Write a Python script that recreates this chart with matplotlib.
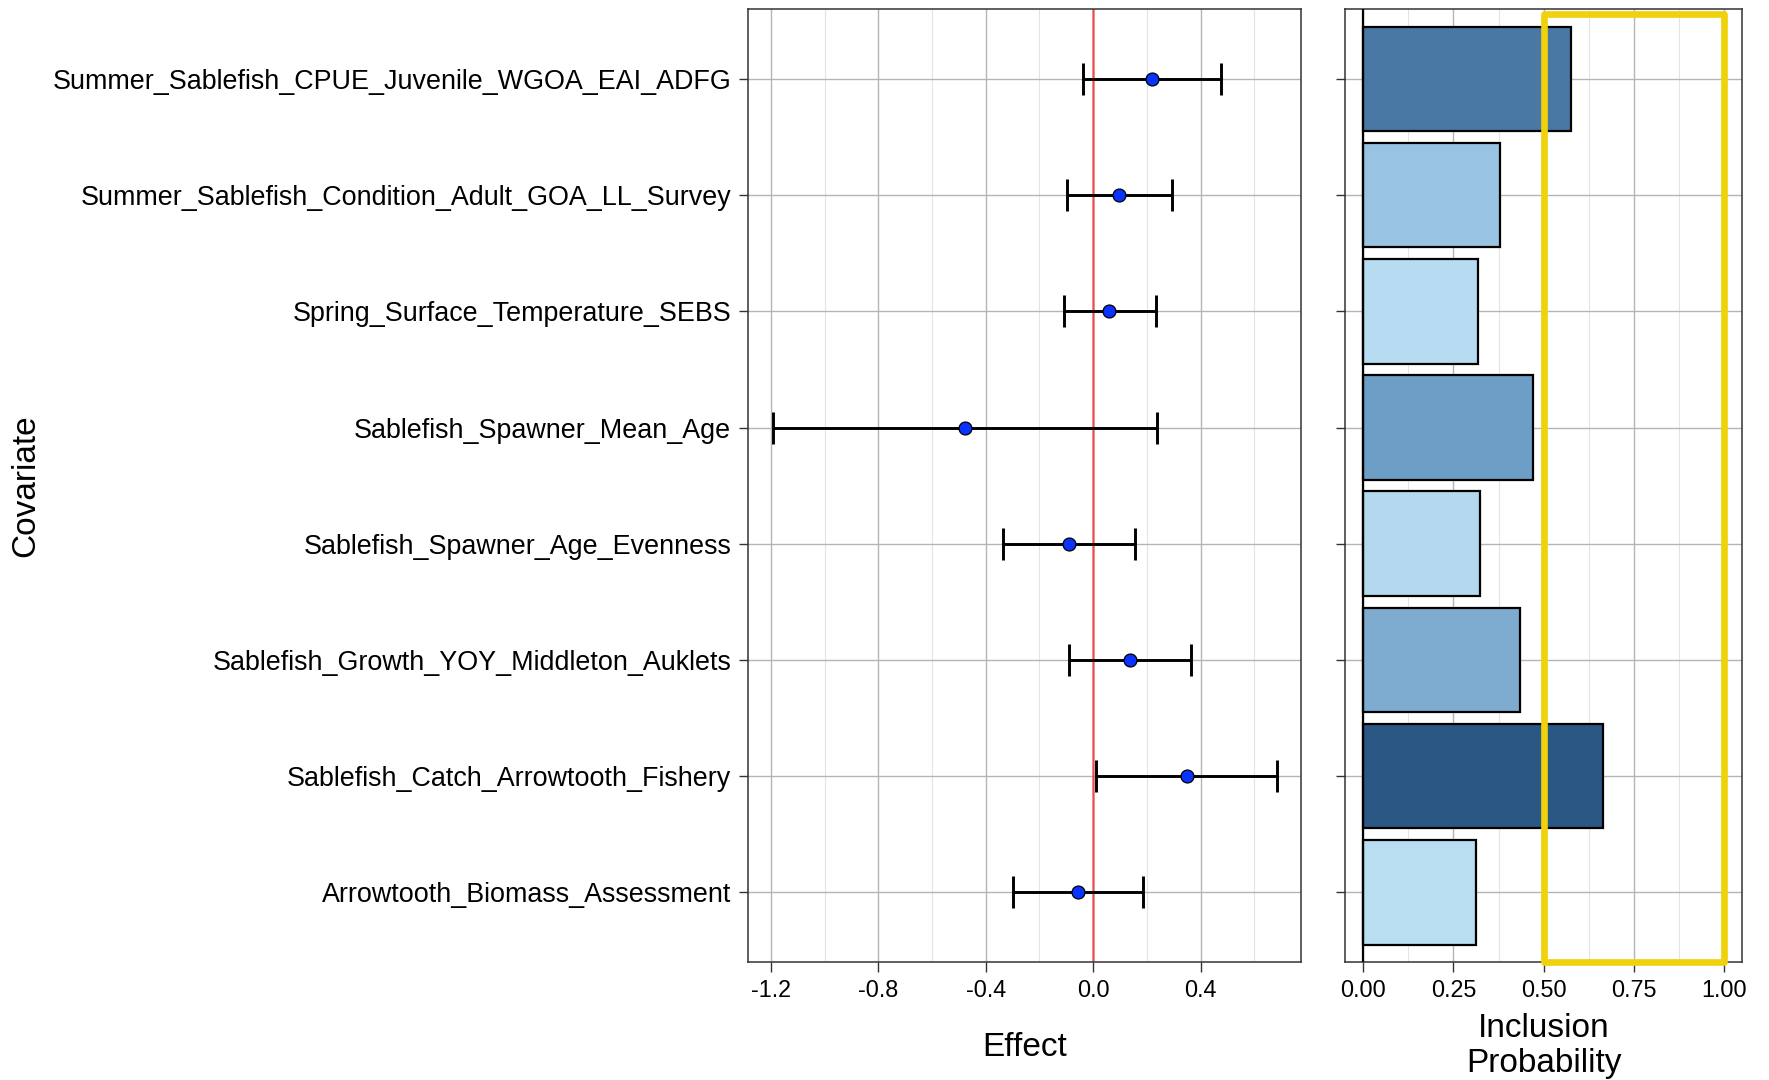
import matplotlib
matplotlib.use("Agg")
import matplotlib.pyplot as plt
from matplotlib.colors import LinearSegmentedColormap, Normalize
from matplotlib.patches import Rectangle
from matplotlib.ticker import MultipleLocator
import numpy as np

plt.rcParams['font.family'] = ['Liberation Sans', 'DejaVu Sans']

# Covariates, listed from top row to bottom row
covariates = [
    "Summer_Sablefish_CPUE_Juvenile_WGOA_EAI_ADFG",
    "Summer_Sablefish_Condition_Adult_GOA_LL_Survey",
    "Spring_Surface_Temperature_SEBS",
    "Sablefish_Spawner_Mean_Age",
    "Sablefish_Spawner_Age_Evenness",
    "Sablefish_Growth_YOY_Middleton_Auklets",
    "Sablefish_Catch_Arrowtooth_Fishery",
    "Arrowtooth_Biomass_Assessment",
]
effect_mean = [0.219, 0.097, 0.060, -0.477, -0.090, 0.139, 0.349, -0.058]
effect_low = [-0.037, -0.098, -0.110, -1.192, -0.336, -0.090, 0.011, -0.299]
effect_high = [0.476, 0.293, 0.233, 0.237, 0.156, 0.365, 0.685, 0.184]
inclusion_prob = [0.575, 0.380, 0.318, 0.471, 0.324, 0.435, 0.663, 0.313]

effect_ticks = [-1.2, -0.8, -0.4, 0.0, 0.4]
prob_ticks = [0.00, 0.25, 0.50, 0.75, 1.00]
highlight_range = (0.5, 1.0)

# Blue fill gradient: light for low inclusion probability, dark for high
fill_cmap = LinearSegmentedColormap.from_list('incl_blues', [
    (0.00, '#b9ddf1'),
    (0.19, '#98c3e1'),
    (0.45, '#6c9ec6'),
    (0.75, '#4878a3'),
    (1.00, '#2a5783'),
])

n = len(covariates)
ypos = np.arange(n, 0, -1)  # top row gets the largest position

W, H = 1769, 1080
fig = plt.figure(figsize=(W / 100, H / 100), dpi=100)

ax1 = fig.add_axes([748 / W, 1 - 962 / H, 553 / W, 952.7 / H])
ax2 = fig.add_axes([1345 / W, 1 - 962 / H, 397.3 / W, 952.7 / H])

major_c, minor_c = '#b5b5b5', '#e4e4e4'
border_c = '#333333'
xtick_fs = 16.8
ytick_fs = 19.4
title_fs = 24

for ax in (ax1, ax2):
    ax.set_ylim(0.4, n + 0.6)
    ax.set_yticks(ypos)
    for s in ax.spines.values():
        s.set_color(border_c)
        s.set_linewidth(1.1)
    ax.tick_params(axis='x', which='major', length=7, width=1.0,
                   color=border_c, labelsize=xtick_fs, pad=5.5)
    ax.tick_params(axis='y', which='major', length=6.5, width=1.0,
                   color=border_c, labelsize=ytick_fs, pad=5.5)
    ax.tick_params(axis='both', which='minor', length=0)
    ax.grid(True, which='major', color=major_c, linewidth=1.0, zorder=0)
    ax.grid(True, which='minor', axis='x', color=minor_c, linewidth=0.8, zorder=0)
    ax.set_axisbelow(True)

# Effect panel
ax1.set_yticklabels(covariates)
ax1.set_xlim(-1.285, 0.774)
ax1.set_xticks(effect_ticks)
ax1.set_xticklabels([f"{t:.1f}" for t in effect_ticks])
ax1.xaxis.set_minor_locator(MultipleLocator(0.2))
ax1.axvline(0, color='red', alpha=0.55, linewidth=1.8, zorder=1)
mean = np.array(effect_mean)
xerr = np.vstack([mean - np.array(effect_low), np.array(effect_high) - mean])
ax1.errorbar(mean, ypos, xerr=xerr, fmt='none', ecolor='black',
             elinewidth=2.1, capsize=11.5, capthick=2.1, zorder=3)
ax1.plot(mean, ypos, 'o', markersize=9.3, markerfacecolor='#0a33ff',
         markeredgecolor='black', markeredgewidth=0.9, zorder=4)
ax1.set_xlabel("Effect", fontsize=title_fs, labelpad=21)
fig.text(26 / W, 1 - 486 / H, "Covariate", rotation=90, fontsize=title_fs,
         ha='center', va='center')

# Inclusion probability panel
norm = Normalize(vmin=min(inclusion_prob), vmax=max(inclusion_prob))
ax2.barh(ypos, inclusion_prob, height=0.9, color=fill_cmap(norm(inclusion_prob)),
         edgecolor='black', linewidth=1.6, zorder=3)
ax2.axvline(0, color='black', linewidth=1.6, zorder=4)
ax2.set_xlim(-0.05, 1.05)
ax2.set_xticks(prob_ticks)
ax2.set_xticklabels([f"{t:.2f}" for t in prob_ticks])
ax2.xaxis.set_minor_locator(MultipleLocator(0.125))
ax2.set_yticklabels([])
ax2.set_xlabel("Inclusion\nProbability", fontsize=title_fs, labelpad=8,
               linespacing=1.16)

ax2.add_patch(Rectangle((highlight_range[0], 0.4),
                        highlight_range[1] - highlight_range[0], n + 0.157,
                        fill=False, edgecolor='#efd10c', linewidth=4.8,
                        joinstyle='round', zorder=5, clip_on=False))

fig.savefig("out.png", dpi=100, facecolor='white')
